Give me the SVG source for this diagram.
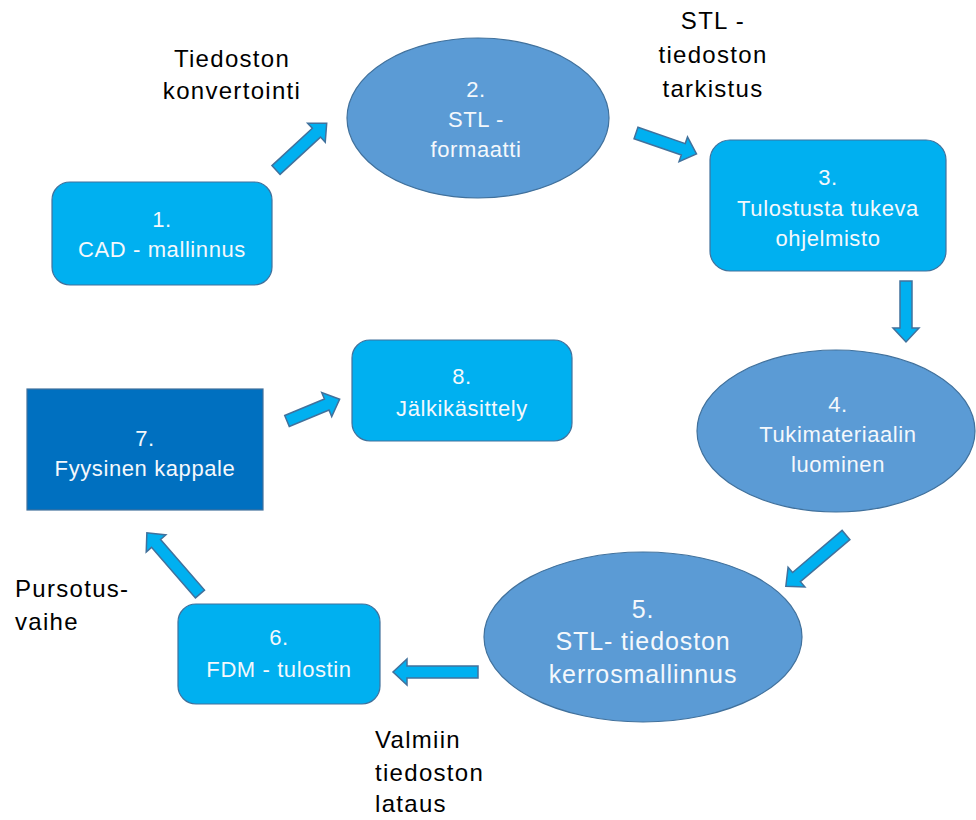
<svg xmlns="http://www.w3.org/2000/svg" width="976" height="820" viewBox="0 0 976 820">
<style>
.box{fill:#00B0F0;stroke:#41719C;stroke-width:1.2}
.ell{fill:#5B9BD5;stroke:#41719C;stroke-width:1.2}
.dark{fill:#0070C0;stroke:#41719C;stroke-width:1.2}
.arr{fill:#00B0F0;stroke:#41719C;stroke-width:1.5;stroke-linejoin:miter}
.t{font-family:"Liberation Sans",Arial,sans-serif;font-size:22px;fill:#F4F8FC;text-anchor:middle;letter-spacing:0.6px}
.l{font-family:"Liberation Sans",Arial,sans-serif;font-size:24px;fill:#000000;letter-spacing:1.3px}
</style>
<rect width="976" height="820" fill="#FFFFFF"/>
<g id="n1"><rect class="box" x="52" y="182" width="220" height="103" rx="18"/>
<text class="t" x="162" y="227">1.</text><text class="t" x="162" y="257">CAD - mallinnus</text></g>
<g id="n2"><ellipse class="ell" cx="478" cy="118" rx="131" ry="80"/>
<text class="t" x="476" y="97">2.</text><text class="t" x="476" y="127">STL -</text><text class="t" x="476" y="157">formaatti</text></g>
<g id="n3"><rect class="box" x="710" y="140" width="236" height="131" rx="20"/>
<text class="t" x="828" y="185">3.</text><text class="t" x="828" y="216">Tulostusta tukeva</text><text class="t" x="828" y="246">ohjelmisto</text></g>
<g id="n4"><ellipse class="ell" cx="836" cy="431" rx="139" ry="81"/>
<text class="t" x="838" y="412">4.</text><text class="t" x="838" y="442">Tukimateriaalin</text><text class="t" x="838" y="472">luominen</text></g>
<g id="n5"><ellipse class="ell" cx="643" cy="637" rx="159" ry="85"/>
<text class="t" x="643" y="618" style="font-size:25px;letter-spacing:0.9px">5.</text><text class="t" x="643" y="650" style="font-size:25px;letter-spacing:0.9px">STL- tiedoston</text><text class="t" x="643" y="683" style="font-size:25px;letter-spacing:0.9px">kerrosmallinnus</text></g>
<g id="n6"><rect class="box" x="178" y="604" width="202" height="100" rx="18"/>
<text class="t" x="279" y="645">6.</text><text class="t" x="279" y="677">FDM - tulostin</text></g>
<g id="n7"><rect class="dark" x="27" y="389" width="236" height="121"/>
<text class="t" x="145" y="446">7.</text><text class="t" x="145" y="476">Fyysinen kappale</text></g>
<g id="n8"><rect class="box" x="352" y="340" width="220" height="101" rx="18"/>
<text class="t" x="462" y="384">8.</text><text class="t" x="462" y="416">Jälkikäsittely</text></g>
<g id="connectors">
<path class="arr" transform="translate(276,170) rotate(-42.7)" d="M0,-6 L55,-6 L55,-13 L69,0 L55,13 L55,6 L0,6 Z"/>
<path class="arr" transform="translate(636,133) rotate(19)" d="M0,-6 L50,-6 L50,-13 L64,0 L50,13 L50,6 L0,6 Z"/>
<path class="arr" transform="translate(906,281) rotate(90)" d="M0,-6 L47,-6 L47,-13 L61,0 L47,13 L47,6 L0,6 Z"/>
<path class="arr" transform="translate(846,535) rotate(139.6)" d="M0,-6 L65,-6 L65,-13 L79,0 L65,13 L65,6 L0,6 Z"/>
<path class="arr" transform="translate(478,672) rotate(180)" d="M0,-6 L71,-6 L71,-13 L85,0 L71,13 L71,6 L0,6 Z"/>
<path class="arr" transform="translate(200,594) rotate(-131)" d="M0,-6 L67,-6 L67,-13 L81,0 L67,13 L67,6 L0,6 Z"/>
<path class="arr" transform="translate(287,421) rotate(-22.5)" d="M0,-6 L43,-6 L43,-13 L57,0 L43,13 L43,6 L0,6 Z"/>
</g>
<g id="labels">
<text class="l" x="232" y="67" text-anchor="middle">Tiedoston</text>
<text class="l" x="232" y="99" text-anchor="middle">konvertointi</text>
<text class="l" x="713" y="29" text-anchor="middle">STL -</text>
<text class="l" x="713" y="63" text-anchor="middle">tiedoston</text>
<text class="l" x="713" y="97" text-anchor="middle">tarkistus</text>
<text class="l" x="15" y="597">Pursotus-</text>
<text class="l" x="15" y="630">vaihe</text>
<text class="l" x="375" y="748">Valmiin</text>
<text class="l" x="375" y="781">tiedoston</text>
<text class="l" x="375" y="812">lataus</text>
</g>
</svg>
